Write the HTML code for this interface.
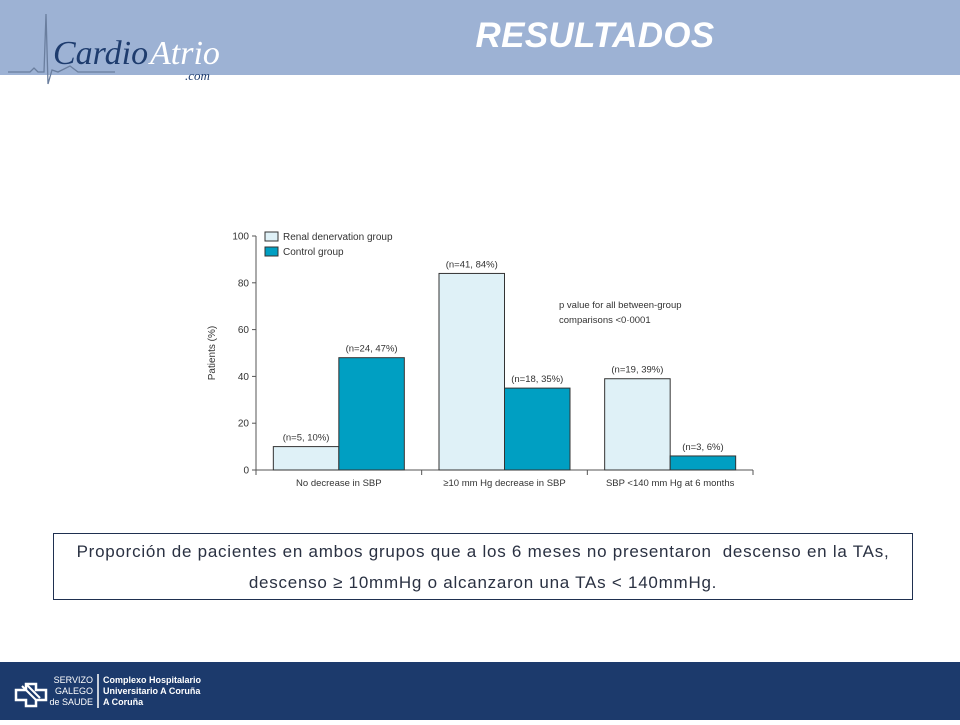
<!DOCTYPE html>
<html><head><meta charset="utf-8">
<style>
body{margin:0;width:960px;height:720px;position:relative;background:#fff;font-family:"Liberation Sans",sans-serif;overflow:hidden}
#header{position:absolute;left:0;top:0;width:960px;height:75px;background:#9db2d4}
#title{position:absolute;left:440px;top:16px;width:310px;text-align:center;color:#fff;font-weight:bold;font-style:italic;font-size:35px;letter-spacing:0.3px}
#logo{position:absolute;left:0;top:0}
#footer{position:absolute;left:0;top:662px;width:960px;height:58px;background:#1c3a6c}
#caption{position:absolute;left:53px;top:533px;width:860px;height:67px;border:1px solid #1f3050;text-align:center;color:#2a3142;font-size:17px;letter-spacing:0.75px;line-height:31px;box-sizing:border-box;padding-top:2px;white-space:nowrap}
</style></head><body>
<div id="header"></div>
<svg id="logo" width="260" height="90">
<polyline points="8,72 30,72 34,68 38,72 44,72 46,14 48,84 52,70 58,72 70,66 78,72 115,72" fill="none" stroke="#6a7e9e" stroke-width="1.3"/>
<text x="53" y="64" font-family="Liberation Serif,serif" font-style="italic" font-size="34" fill="#1e3c6e">Cardio</text>
<text x="150" y="64" font-family="Liberation Serif,serif" font-style="italic" font-size="34" fill="#fff">Atrio</text>
<text x="185" y="80" font-family="Liberation Serif,serif" font-style="italic" font-size="13" fill="#1e3c6e">.com</text>
</svg>
<div id="title">RESULTADOS</div>

<svg id="chart" width="960" height="720" style="position:absolute;left:0;top:0"></svg>

<div id="caption">Proporción de pacientes en ambos grupos que a los 6 meses no presentaron&nbsp; descenso en la TAs,<br>descenso ≥ 10mmHg o alcanzaron una TAs &lt; 140mmHg.</div>

<div id="footer">
<svg width="300" height="58">
<path d="M22,18 h10 v-6 h10 v6 h10 v10 h-10 v6 h-10 v-6 h-10 z" fill="none" stroke="#fff" stroke-width="2.5" transform="translate(-6,10)"/>
<line x1="22" y1="24" x2="36" y2="38" stroke="#fff" stroke-width="2"/>
<line x1="26" y1="22" x2="40" y2="36" stroke="#fff" stroke-width="2"/>
<text x="93" y="21" fill="#fff" font-size="9" text-anchor="end">SERVIZO</text>
<text x="93" y="32" fill="#fff" font-size="9" text-anchor="end">GALEGO</text>
<text x="93" y="43" fill="#fff" font-size="9" text-anchor="end">de SAUDE</text>
<line x1="98" y1="12" x2="98" y2="46" stroke="#fff" stroke-width="1.5"/>
<text x="103" y="21" fill="#fff" font-size="9" font-weight="bold">Complexo Hospitalario</text>
<text x="103" y="32" fill="#fff" font-size="9" font-weight="bold">Universitario A Coruña</text>
<text x="103" y="43" fill="#fff" font-size="9" font-weight="bold">A Coruña</text>
</svg>
</div>

<script>
const categories=["No decrease in SBP","≥10 mm Hg decrease in SBP","SBP <140 mm Hg at 6 months"];
const renalValues=[10,84,39];
const controlValues=[48,35,6];
const renalLabels=["(n=5, 10%)","(n=41, 84%)","(n=19, 39%)"];
const controlLabels=["(n=24, 47%)","(n=18, 35%)","(n=3, 6%)"];
const yTicks=[0,20,40,60,80,100];

const NS="http://www.w3.org/2000/svg";
const svg=document.getElementById('chart');
const x0=256,x1=753,y0=470,y100=236;
const yScale=v=>y0-(v/100)*(y0-y100);
const groupW=(x1-x0)/categories.length;
const barW=65.5;
function mk(t,a,txt){const e=document.createElementNS(NS,t);for(const k in a)e.setAttribute(k,a[k]);if(txt!==undefined)e.textContent=txt;svg.appendChild(e);return e;}
const font='Liberation Sans, sans-serif';
let e=mk('line',{x1:x0,y1:y100,x2:x0,y2:y0,stroke:'#555','stroke-width':1});


e=mk('line',{x1:x0,y1:y0,x2:x1,y2:y0,stroke:'#555','stroke-width':1});


yTicks.forEach(t=>{
  const y=yScale(t);
  mk('line',{x1:x0-4,y1:y,x2:x0,y2:y,stroke:'#555'});
  e=mk('text',{x:x0-7,y:y+3.5,'text-anchor':'end','font-size':10,'font-family':font,fill:'#333'},t);
  
  
});
for(let i=0;i<=categories.length;i++){
  const x=x0+i*groupW;
  mk('line',{x1:x,y1:y0,x2:x,y2:y0+5,stroke:'#555'});
}
e=mk('text',{x:0,y:0,transform:`translate(215,${(y0+y100)/2}) rotate(-90)`,'text-anchor':'middle','font-size':10,'font-family':font,fill:'#333'},'Patients (%)');


categories.forEach((c,i)=>{
  const gx=x0+i*groupW;
  const cx=gx+groupW/2;
  const lx=cx-barW;
  const ry=yScale(renalValues[i]);
  e=mk('rect',{x:lx,y:ry,width:barW,height:y0-ry,fill:'#dff1f7',stroke:'#333','stroke-width':1});
  
  
  const cy=yScale(controlValues[i]);
  e=mk('rect',{x:cx,y:cy,width:barW,height:y0-cy,fill:'#009fc2',stroke:'#333','stroke-width':1});
  
  
  e=mk('text',{x:lx+barW/2,y:ry-6,'text-anchor':'middle','font-size':9.5,'font-family':font,fill:'#333'},renalLabels[i]);
  
  
  e=mk('text',{x:cx+barW/2,y:cy-6,'text-anchor':'middle','font-size':9.5,'font-family':font,fill:'#333'},controlLabels[i]);
  
  
  e=mk('text',{x:cx,y:y0+16,'text-anchor':'middle','font-size':9.5,'font-family':font,fill:'#333'},c);
  
  
});
e=mk('rect',{x:265,y:232,width:13,height:9,fill:'#dff1f7',stroke:'#333'});


e=mk('text',{x:283,y:240,'font-size':10,'font-family':font,fill:'#333'},'Renal denervation group');


e=mk('rect',{x:265,y:247,width:13,height:9,fill:'#009fc2',stroke:'#333'});


e=mk('text',{x:283,y:255,'font-size':10,'font-family':font,fill:'#333'},'Control group');


e=mk('text',{x:559,y:308,'font-size':9.5,'font-family':font,fill:'#333'},'p value for all between-group');


e=mk('text',{x:559,y:323,'font-size':9.5,'font-family':font,fill:'#333'},'comparisons <0·0001');


</script>
</body></html>
